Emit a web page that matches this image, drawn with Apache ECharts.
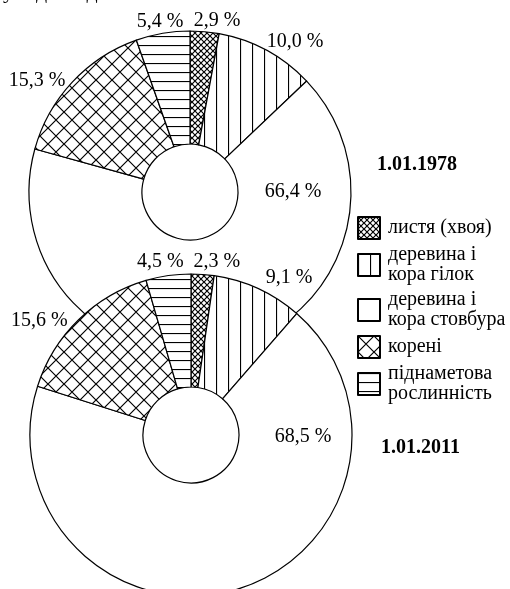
<!DOCTYPE html>
<html>
<head>
<meta charset="utf-8">
<script src="https://cdn.jsdelivr.net/npm/echarts@6/dist/echarts.min.js"></script>
<style>
    html, body { margin: 0; padding: 0; background: #fff; }
    #chart { width: 510px; height: 589px; }
</style>
</head>
<body>
<div id="chart"></div>
<script>
let chart = echarts.init(document.getElementById('chart'));

// дані
let categories = ['листя (хвоя)', 'деревина і\nкора гілок', 'деревина і\nкора стовбура', 'корені', 'піднаметова\nрослинність'];
let share_1978 = [2.9, 10.0, 66.4, 15.3, 5.4];
let share_2011 = [2.3, 9.1, 68.5, 15.6, 4.5];
let dates = ['1.01.1978', '1.01.2011'];

// розміщення підписів: кут (від 12 год, за годинниковою) і відстань від центру
let label_angle = [[9, 35, 90, -54, -10], [8.5, 32, 91, -53, -10]];
let label_dist = [[173, 183, 103, 189, 173], [175, 185, 112, 190, 176]];
let centers = [[190, 192], [191, 435]];

let font = 'Liberation Serif, Times New Roman, serif';

let makeTile = function (size, draw) {
    let c = document.createElement('canvas');
    c.width = size;
    c.height = size;
    let ctx = c.getContext('2d');
    ctx.fillStyle = '#fff';
    ctx.fillRect(0, 0, size, size);
    ctx.strokeStyle = '#000';
    ctx.lineWidth = 1.2;
    draw(ctx, size);
    return c;
};

let cross = function (ctx, s) {
    ctx.beginPath();
    ctx.moveTo(-1, -1);
    ctx.lineTo(s + 1, s + 1);
    ctx.moveTo(s + 1, -1);
    ctx.lineTo(-1, s + 1);
    ctx.stroke();
};

let patterns = [
    {image: makeTile(6, cross), repeat: 'repeat'},
    {image: makeTile(12, (ctx, s) => { ctx.beginPath(); ctx.moveTo(0.5, 0); ctx.lineTo(0.5, s); ctx.stroke(); }), repeat: 'repeat'},
    '#fff',
    {image: makeTile(16, cross), repeat: 'repeat'},
    {image: makeTile(9, (ctx, s) => { ctx.beginPath(); ctx.moveTo(0, 0.5); ctx.lineTo(s, 0.5); ctx.stroke(); }), repeat: 'repeat'},
];

let fmt = function (p) {
    return p.value.toFixed(1).replace('.', ',') + ' %';
};

let makeSeries = function (values, idx) {
    return {
        type: 'pie',
        center: centers[idx],
        radius: [48, 161],
        startAngle: 90,
        clockwise: true,
        silent: true,
        animation: false,
        avoidLabelOverlap: false,
        data: values.map((v, i) => ({
            name: categories[i],
            value: v,
            itemStyle: {color: patterns[i]}
        })),
        itemStyle: {borderColor: '#000', borderWidth: 1.2},
        label: {
            show: true,
            position: 'outside',
            formatter: fmt,
            color: '#000',
            fontFamily: font,
            fontSize: 20
        },
        labelLine: {show: false},
        labelLayout: function (params) {
            let a = label_angle[idx][params.dataIndex] * Math.PI / 180;
            let d = label_dist[idx][params.dataIndex];
            return {
                x: centers[idx][0] + d * Math.sin(a),
                y: centers[idx][1] - d * Math.cos(a),
                align: 'center',
                verticalAlign: 'middle'
            };
        }
    };
};

let option = {
    backgroundColor: '#fff',
    animation: false,
    title: [
        {text: 'у відповідно:', left: -2, top: -24, textStyle: {fontFamily: font, fontSize: 22, fontWeight: 'normal', color: '#000'}},
        {text: dates[0], left: 372, top: 150, textStyle: {fontFamily: font, fontSize: 20, fontWeight: 'bold', color: '#000'}},
        {text: dates[1], left: 376, top: 433, textStyle: {fontFamily: font, fontSize: 20, fontWeight: 'bold', color: '#000'}}
    ],
    legend: {
        orient: 'vertical',
        left: 357,
        top: 216,
        padding: 0,
        itemWidth: 22,
        itemHeight: 22,
        itemGap: 5,
        icon: 'rect',
        selectedMode: false,
        data: categories,
        textStyle: {
            fontFamily: font,
            fontSize: 20,
            lineHeight: 20,
            color: '#000',
            padding: [0, 0, 0, 3]
        }
    },
    series: [
        makeSeries(share_1978, 0),
        makeSeries(share_2011, 1)
    ]
};

chart.setOption(option);
</script>
</body>
</html>
